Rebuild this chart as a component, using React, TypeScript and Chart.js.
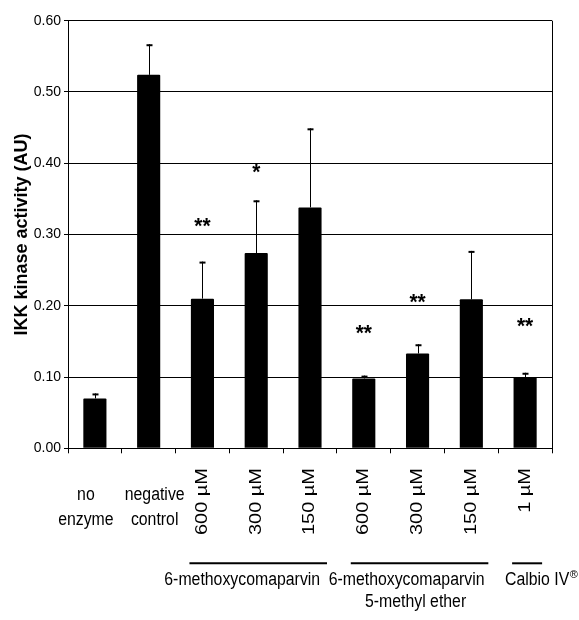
import React, { useEffect, useRef } from "react";
import { Chart, registerables } from "chart.js";

Chart.register(...registerables);

// ---- data ----
const categories: (string | string[])[] = [
  ["no", "enzyme"],
  ["negative", "control"],
  "600 µM",
  "300 µM",
  "150 µM",
  "600 µM",
  "300 µM",
  "150 µM",
  "1 µM",
];
const activity = [0.07, 0.524, 0.21, 0.274, 0.338, 0.098, 0.133, 0.209, 0.1];
const errorUpper = [0.007, 0.043, 0.052, 0.074, 0.111, 0.004, 0.013, 0.068, 0.006];
const significance = ["", "", "**", "*", "", "**", "**", "", "**"];
const significanceAt = [0, 0, 0.32, 0.395, 0, 0.169, 0.2125, 0, 0.179];
const yTickValues = [0, 0.1, 0.2, 0.3, 0.4, 0.5, 0.6];
const groupLabels: string[][] = [
  ["6-methoxycomaparvin"],
  ["6-methoxycomaparvin", "5-methyl ether"],
  ["Calbio IV"],
];
const groupStart = [2, 5, 8];
const groupEnd = [4, 7, 8];
const yTitle = "IKK kinase activity (AU)";

// ---- styling constants ----
const FONT = "'Liberation Sans', Arial, Helvetica, sans-serif";
const horizLabelShift = [-9, 6];
const groupTextShift = [-16, -13, 10];

function hText(ctx: CanvasRenderingContext2D, text: string, x: number, y: number, font: string, sx = 0.88) {
  ctx.save();
  ctx.font = font;
  ctx.translate(x, y);
  ctx.scale(sx, 1);
  ctx.fillText(text, 0, 0);
  ctx.restore();
}

const overlay = {
  id: "overlay",
  afterDatasetsDraw(chart: any) {
    const { ctx, chartArea, scales } = chart;
    const xs = scales.x;
    const ys = scales.y;
    const bottom = chartArea.bottom;
    ctx.save();
    ctx.fillStyle = "#000";
    ctx.strokeStyle = "#000";

    // right border
    ctx.lineWidth = 1;
    ctx.beginPath();
    ctx.moveTo(Math.round(chartArea.right) + 0.5, chartArea.top);
    ctx.lineTo(Math.round(chartArea.right) + 0.5, bottom);
    ctx.stroke();

    // error bars
    activity.forEach((v, i) => {
      const px = Math.round(xs.getPixelForValue(i)) + 0.5;
      const yb = ys.getPixelForValue(v);
      const yt = ys.getPixelForValue(v + errorUpper[i]);
      ctx.lineWidth = 1;
      ctx.beginPath();
      ctx.moveTo(px, yb);
      ctx.lineTo(px, yt);
      ctx.stroke();
      ctx.lineWidth = 2;
      ctx.beginPath();
      ctx.moveTo(px - 3, yt + 1);
      ctx.lineTo(px + 3, yt + 1);
      ctx.stroke();
    });

    // significance stars
    ctx.textAlign = "center";
    ctx.textBaseline = "alphabetic";
    significance.forEach((s, i) => {
      if (!s) return;
      const px = xs.getPixelForValue(i);
      const py = ys.getPixelForValue(significanceAt[i]);
      hText(ctx, s, px, py + 12.5, `bold 22px ${FONT}`, 0.95);
    });

    // category labels
    categories.forEach((c, i) => {
      const px = xs.getPixelForValue(i);
      if (Array.isArray(c)) {
        ctx.textAlign = "center";
        ctx.textBaseline = "alphabetic";
        const sh = horizLabelShift[i] || 0;
        c.forEach((line, k) => {
          hText(ctx, line, px + sh, bottom + 51.5 + k * 25, `18px ${FONT}`);
        });
      } else {
        ctx.save();
        ctx.font = `20px ${FONT}`;
        ctx.translate(px, bottom + 19.7);
        ctx.rotate(-Math.PI / 2);
        ctx.scale(1, 0.8);
        ctx.textAlign = "right";
        ctx.textBaseline = "middle";
        ctx.fillText(c, 0, 0);
        ctx.restore();
      }
    });

    // group lines + labels
    groupLabels.forEach((lines, g) => {
      const x1 = xs.getPixelForValue(groupStart[g]) - 13;
      const x2 = xs.getPixelForValue(groupEnd[g]) + 17;
      ctx.lineWidth = 2;
      ctx.beginPath();
      ctx.moveTo(x1, bottom + 115);
      ctx.lineTo(x2, bottom + 115);
      ctx.stroke();
      const cx = (x1 + x2) / 2 + groupTextShift[g];
      ctx.textAlign = "center";
      ctx.textBaseline = "alphabetic";
      lines.forEach((line, k) => {
        hText(ctx, line, cx + (k > 0 ? 9 : 0), bottom + 136.7 + k * 22, `18px ${FONT}`);
      });
      if (g === 2) {
        ctx.save();
        ctx.font = `18px ${FONT}`;
        const w = ctx.measureText(lines[0]).width * 0.88;
        ctx.textAlign = "left";
        hText(ctx, "®", cx + w / 2 + 0.5, bottom + 130, `11px ${FONT}`, 1);
        ctx.restore();
      }
    });

    ctx.restore();
  },
};

export default function App() {
  const ref = useRef<HTMLCanvasElement | null>(null);
  useEffect(() => {
    if (!ref.current) return;
    const chart = new Chart(ref.current, {
      type: "bar",
      data: {
        labels: categories.map((c) => (Array.isArray(c) ? c.join(" ") : c)),
        datasets: [
          {
            data: activity,
            backgroundColor: "#000",
            borderColor: "#000",
            borderWidth: 0,
            barPercentage: 0.43,
            categoryPercentage: 1,
            borderRadius: 1,
          },
        ],
      },
      options: {
        responsive: false,
        animation: false,
        devicePixelRatio: 1,
        layout: { padding: { top: 20.7, right: 27, left: 0, bottom: 0 } },
        plugins: { legend: { display: false }, tooltip: { enabled: false } },
        scales: {
          x: {
            offset: true,
            grid: {
              display: true,
              drawOnChartArea: false,
              drawTicks: true,
              tickLength: 5,
              color: "#000",
              lineWidth: 1,
              offset: true,
            },
            border: { display: true, color: "#000", width: 1 },
            ticks: { display: false },
            afterFit: (scale: any) => {
              scale.height = 171.7;
            },
          },
          y: {
            min: 0,
            max: 0.6,
            afterBuildTicks: (scale: any) => {
              scale.ticks = yTickValues.map((v) => ({ value: v }));
            },
            grid: {
              color: "#000",
              lineWidth: 1,
              drawTicks: true,
              tickLength: 4,
            },
            border: { display: true, color: "#000", width: 1 },
            ticks: {
              color: "#000",
              padding: 3,
              font: { family: FONT, size: 14 },
              callback: (v: any) => Number(v).toFixed(2),
            },
            title: {
              display: true,
              text: yTitle,
              color: "#000",
              font: { family: FONT, size: 18, weight: "bold" },
              padding: { top: 11, bottom: 0 },
            },
            afterFit: (scale: any) => {
              scale.width = 68;
            },
          },
        },
      },
      plugins: [overlay],
    });
    return () => chart.destroy();
  }, []);
  return (
    <div style={{ position: "fixed", left: 0, top: 0, width: 579, height: 620 }}>
      <canvas ref={ref} width={579} height={620} style={{ display: "block" }} />
    </div>
  );
}
